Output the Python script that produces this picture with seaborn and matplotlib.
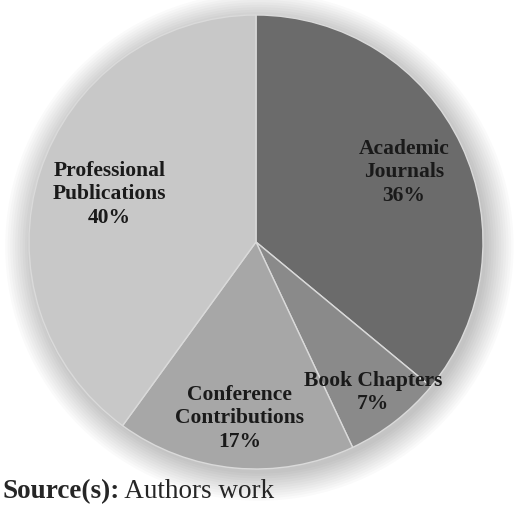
import numpy as np
import matplotlib.pyplot as plt
import seaborn as sns
from matplotlib.patches import Circle

# Data
categories = ["Academic\nJournals", "Book Chapters", "Conference\nContributions", "Professional\nPublications"]
shares = [36, 7, 17, 40]
label_radius = [0.72, 0.84, 0.78, 0.68]
colors = ["#6b6b6b", "#8a8a8a", "#a7a7a7", "#c8c8c8"]

sns.set_theme(style="white")
plt.rcParams['font.family'] = ['Liberation Serif', 'DejaVu Serif']

fig = plt.figure(figsize=(5.2, 5.07), dpi=100)
ax = fig.add_axes([0, 0, 1, 1])
ax.set_aspect('equal')
ax.axis('off')

# soft shadow glow around the pie
for r in np.linspace(1.12, 1.0, 12):
    ax.add_patch(Circle((0.015, -0.02), r, color='black', alpha=0.02, lw=0, zorder=0))

wedges, _ = ax.pie(shares, colors=colors, startangle=90, counterclock=False,
                   radius=1.0, wedgeprops=dict(edgecolor='#dadada', linewidth=1.0))
for w in wedges:
    w.set_zorder(2)

for w, lab, val, rr in zip(wedges, categories, shares, label_radius):
    mid = np.deg2rad((w.theta1 + w.theta2) / 2)
    ax.text(rr * np.cos(mid), rr * np.sin(mid), f"{lab}\n{val}%", ha='center', va='center',
            fontsize=15.5, fontweight='bold', color='#1a1a1a', linespacing=1.22, zorder=3)

ax.set_xlim(-1.15, 1.15)
ax.set_ylim(-1.15, 1.15)
pos = [(256 - 227 * 1.15) / 520, (507 - 242 - 227 * 1.15) / 507, 454 * 1.15 / 520, 454 * 1.15 / 507]
ax.set_position(pos)

t = fig.text(2 / 520, 1 - 498 / 507, "Source(s):", fontsize=19.5, fontweight='bold', va='baseline', ha='left')
ax.annotate(" Authors work", xy=(1, 0), xycoords=t, fontsize=19.5, va='bottom', ha='left',
            annotation_clip=False)

fig.savefig("out.png", dpi=100, facecolor='white')
